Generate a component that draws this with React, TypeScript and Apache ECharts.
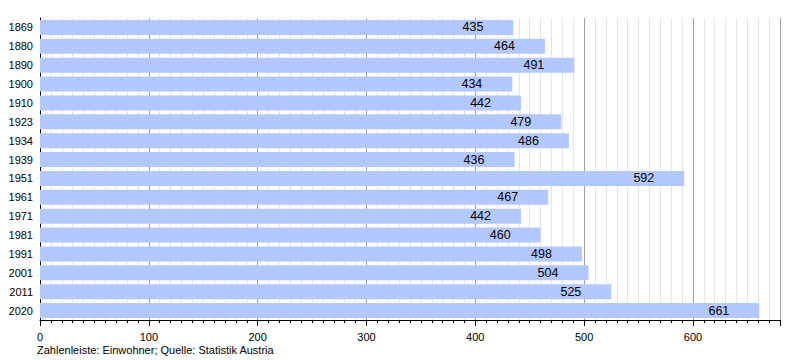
import React, { useEffect, useRef } from "react";
import * as echarts from "echarts";

const years = ["1869","1880","1890","1900","1910","1923","1934","1939","1951","1961","1971","1981","1991","2001","2011","2020"];
const population = [435,464,491,434,442,479,486,436,592,467,442,460,498,504,525,661];
const footnote = "Zahlenleiste: Einwohner; Quelle: Statistik Austria";

export default function App() {
  const ref = useRef<HTMLDivElement>(null);
  useEffect(() => {
    document.body.style.margin = "0";
    const chart = echarts.init(ref.current!, null, { renderer: "svg" });
    const font = "Liberation Sans, Arial, sans-serif";
    chart.setOption({
      animation: false,
      textStyle: { fontFamily: font },
      grid: { left: 40, right: 20, top: 18, bottom: 40 },
      xAxis: {
        type: "value",
        min: 0,
        max: 680,
        interval: 100,
        axisLine: { show: true, lineStyle: { color: "#000", width: 1 } },
        axisTick: { show: true, inside: false, length: 6, lineStyle: { color: "#000" } },
        minorTick: { show: true, splitNumber: 10, length: 3, lineStyle: { color: "#000" } },
        splitLine: { show: true, lineStyle: { color: "#a0a0a0", width: 1 } },
        minorSplitLine: { show: true, lineStyle: { color: "#e4e4e4", width: 1 } },
        axisLabel: {
          color: "#000", fontSize: 11, fontFamily: font, margin: 11,
          formatter: (v: number) => (v % 100 === 0 && v <= 600 ? String(v) : ""),
        },
      },
      yAxis: {
        type: "category",
        data: years,
        inverse: true,
        axisLine: { show: true, lineStyle: { color: "#000", width: 1 } },
        axisTick: { show: false },
        axisLabel: { color: "#000", fontSize: 11, fontFamily: font, margin: 7 },
      },
      series: [
        {
          type: "bar",
          data: population,
          barCategoryGap: "20%",
          itemStyle: { color: "#b3c8ff" },
          label: {
            show: true,
            position: "insideRight",
            distance: 30,
            color: "#000",
            fontSize: 12.5,
            fontFamily: font,
          },
        },
      ],
      graphic: [
        {
          type: "text",
          left: 37,
          top: 344,
          style: { text: footnote, fontSize: 11, fontFamily: font, fill: "#000" },
        },
      ],
    });
    return () => chart.dispose();
  }, []);
  return <div ref={ref} style={{ width: 800, height: 360 }} />;
}
